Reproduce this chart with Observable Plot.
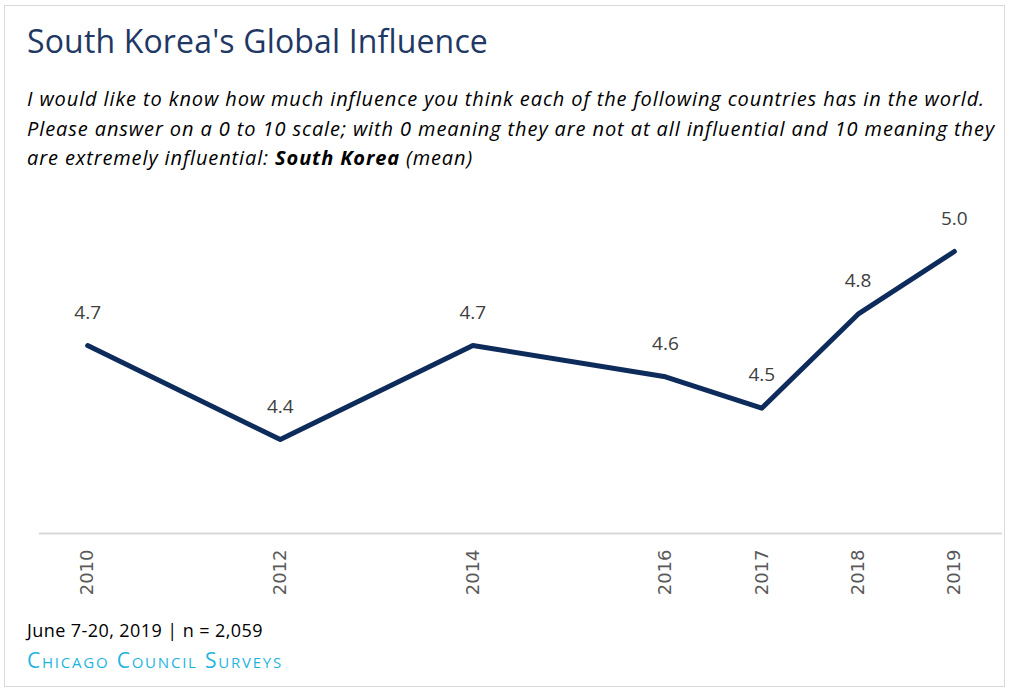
<!DOCTYPE html>
<html>
<head>
<meta charset="utf-8">
<script src="https://cdn.jsdelivr.net/npm/d3@7"></script>
<script src="https://cdn.jsdelivr.net/npm/@observablehq/plot@0.6"></script>
<style>
  html, body { margin: 0; padding: 0; background: #fff; }
  #frame { position: absolute; left: 4px; top: 5px; width: 1001px; height: 682px; border: 1px solid #d9d9d9; box-sizing: border-box; }
  .fit { position: absolute; left: 27px; white-space: nowrap; font-family: "Open Sans", sans-serif; }
  #title { top: 19px; font-size: 32px; color: #1f3864; }
  .sub { font-style: italic; font-size: 20px; color: #000; }
  #sub1 { top: 85px; }
  #sub2 { top: 115px; }
  #sub3 { top: 144px; }
  #chart { position: absolute; left: 0; top: 190px; }
  #note { top: 618px; font-size: 18px; color: #000; }
  #source { top: 646px; font-size: 21px; font-variant: small-caps; color: #1fb4e0; }
</style>
</head>
<body>
<div id="frame"></div>
<div id="title" class="fit" data-w="461">South Korea's Global Influence</div>
<div id="sub1" class="fit sub" data-w="958">I would like to know how much influence you think each of the following countries has in the world.</div>
<div id="sub2" class="fit sub" data-w="968">Please answer on a 0 to 10 scale; with 0 meaning they are not at all influential and 10 meaning they</div>
<div id="sub3" class="fit sub" data-w="446">are extremely influential: <b>South Korea</b> (mean)</div>
<div id="chart"></div>
<div id="note" class="fit" data-w="236">June 7-20, 2019 | n = 2,059</div>
<div id="source" class="fit" data-w="256">Chicago Council Surveys</div>
<script>
const years = [2010, 2012, 2014, 2016, 2017, 2018, 2019];
const values = [4.7, 4.4, 4.7, 4.6, 4.5, 4.8, 5.0];
const data = years.map((y, i) => ({year: y, value: values[i]}));

// fit text widths via letter-spacing
document.querySelectorAll(".fit").forEach(el => {
  const target = +el.dataset.w;
  const w = el.getBoundingClientRect().width;
  const n = el.textContent.length;
  el.style.letterSpacing = ((target - w) / n) + "px";
});

const chart = Plot.plot({
  width: 1010,
  height: 420,
  marginLeft: 39,
  marginRight: 8,
  marginTop: 61,
  marginBottom: 77,
  x: {domain: [2009.5, 2019.5], label: null},
  y: {domain: [4.1, 5.0], axis: null},
  style: {background: "transparent"},
  marks: [
    Plot.ruleY([4.1], {stroke: "#d9d9d9", strokeWidth: 2}),
    Plot.axisX({ticks: years, tickFormat: d => String(d), tickRotate: -90, tickSize: 0, tickPadding: 16, label: null,
      fontSize: 18, fontFamily: "DejaVu Sans", fill: "#595959"}),
    Plot.line(data, {x: "year", y: "value", stroke: "#0d2b5b", strokeWidth: 5, strokeLinejoin: "round", strokeLinecap: "round"}),
    Plot.text(data, {x: "year", y: "value", text: d => d.value.toFixed(1), dy: -33, fontSize: 19, fontFamily: "Open Sans", fill: "#404040"})
  ]
});
document.getElementById("chart").appendChild(chart);
</script>
</body>
</html>
